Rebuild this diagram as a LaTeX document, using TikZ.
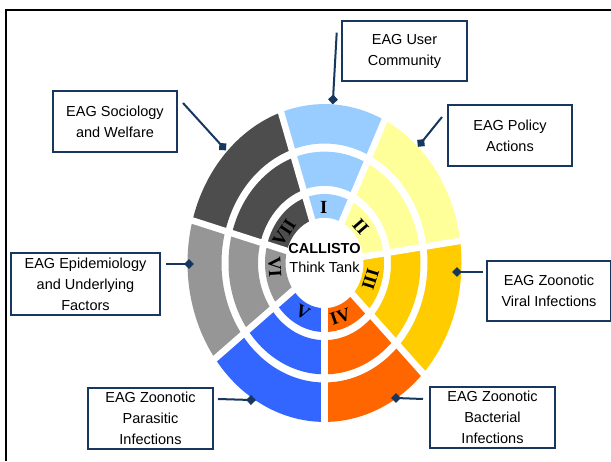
\documentclass[tikz,border=0pt]{standalone}
\usepackage{fontspec}
\setmainfont{Liberation Sans}
\newfontfamily\numfont{Liberation Serif}
\usetikzlibrary{shapes.geometric}
\definecolor{navy}{HTML}{17375E}
\definecolor{cI}{HTML}{99CCFF}
\definecolor{cII}{HTML}{FFFF99}
\definecolor{cIII}{HTML}{FFCC00}
\definecolor{cIV}{HTML}{FF6600}
\definecolor{cV}{HTML}{3366FF}
\definecolor{cVI}{HTML}{969696}
\definecolor{cVII}{HTML}{4D4D4D}
\begin{document}
\begin{tikzpicture}[x=1pt,y=1pt,
  box/.style={draw=navy,line width=2.2pt,fill=white,align=center,inner sep=0pt,
    font=\fontsize{14.5}{21}\selectfont},
  conn/.style={draw=navy,line width=2pt},
  marker/.style={diamond,fill=navy,minimum width=10pt,minimum height=10pt,inner sep=0pt},
  num/.style={font=\numfont\bfseries\fontsize{18.5}{18.5}\selectfont,inner sep=0pt},
  frameline/.style={draw=black,line width=2pt}]
\useasboundingbox (0,0) rectangle (611,461);
\fill[white] (0,0) rectangle (611,461);
% frame
\draw[frameline] (6,0) -- (6,451) -- (612,451);
% rings
\begin{scope}[shift={(324.5,198)},yscale=1.16]
  \foreach \c/\a/\b in {cI/64/108.5, cII/8/64, cIII/-44/8, cIV/-90/-44, cV/-143/-90, cVI/164.5/217, cVII/108.5/164.5}{
    \foreach \r/\R in {39/59.5, 66.5/96, 103/137}{
      \fill[\c] (\a:\R) arc[start angle=\a,end angle=\b,radius=\R] -- (\b:\r) arc[start angle=\b,end angle=\a,radius=\r] -- cycle;
    }
  }
  \foreach \a in {64,8,-44,-90,-143,164.5,108.5}
    \draw[white,line width=6.5pt] (0,0) -- (\a:141);
  \node[num] (nI) at (91:48) {I};
  \node[num,rotate=-49] (nII) at (41:48) {II};
  \node[num,rotate=-107] (nIII) at (-17:48) {III};
  \node[num,rotate=19] (nIV) at (-71:49) {IV};
  \node[num,rotate=-27] (nV) at (-117:48) {V};
  \node[num,rotate=-86] (nVI) at (184:50) {VI};
  \node[num,rotate=57] (nVII) at (147:48) {VII};
\end{scope}
\node[align=center,inner sep=0pt,font=\fontsize{14.5}{19}\selectfont] (ctr) at (324.5,203)
  {\textbf{CALLISTO}\\Think Tank};
% boxes
\node[box,minimum width=125pt,minimum height=60pt] (user) at (404.5,410) {EAG User\\Community};
\node[box,minimum width=124pt,minimum height=61pt] (policy) at (510,325.5) {EAG Policy\\Actions};
\node[box,minimum width=124pt,minimum height=61pt] (socio) at (115,339.5) {EAG Sociology\\and Welfare};
\node[box,minimum width=149pt,minimum height=62pt] (epid) at (85.5,177) {EAG Epidemiology\\and Underlying\\Factors};
\node[box,minimum width=124pt,minimum height=60pt] (viral) at (549,170) {EAG Zoonotic\\Viral Infections};
\node[box,minimum width=125pt,minimum height=61pt] (para) at (150.5,42.5) {EAG Zoonotic\\Parasitic\\Infections};
\node[box,minimum width=125pt,minimum height=61pt] (bact) at (492.5,43.5) {EAG Zoonotic\\Bacterial\\Infections};
% connector start points
\coordinate (s1) at (336.7,428.3);
\coordinate (s2) at (442,344);
\coordinate (s3) at (183,358);
\coordinate (s4) at (166,197);
\coordinate (s5) at (483,189);
\coordinate (s6) at (218,62);
\coordinate (s7) at (423,62);
% markers
\node[marker,rotate=-3] (m1) at (333,361.5) {};
\node[marker,rotate=-39] (m2) at (421,318) {};
\node[marker,rotate=-48] (m3) at (222.7,314.3) {};
\node[marker] (m4) at (189,197) {};
\node[marker] (m5) at (457,189) {};
\node[marker,rotate=-2] (m6) at (251,61) {};
\node[marker] (m7) at (396,63) {};
% connectors
\draw[conn] (s1) -- (m1.center);
\draw[conn] (s2) -- (m2.center);
\draw[conn] (s3) -- (m3.center);
\draw[conn] (s4) -- (m4.center);
\draw[conn] (s5) -- (m5.center);
\draw[conn] (s6) -- (m6.center);
\draw[conn] (s7) -- (m7.center);
\end{tikzpicture}
\end{document}
